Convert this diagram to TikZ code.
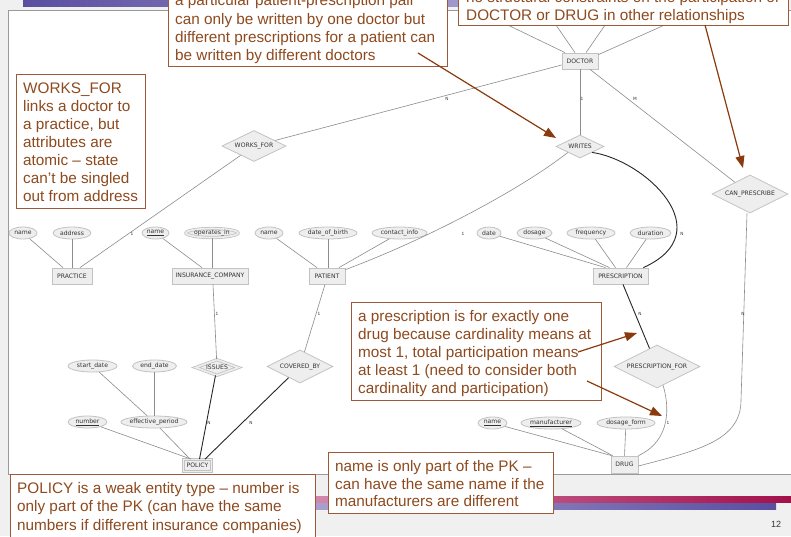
\documentclass[tikz,border=0pt]{standalone}
\usepackage{fontspec}
\setmainfont{Liberation Sans}
\newfontfamily\erfam{DejaVu Sans}
\usetikzlibrary{shapes.geometric,arrows.meta,calc}
\definecolor{slidebg}{HTML}{F0F0F0}
\definecolor{panelborder}{HTML}{9A9A9A}
\definecolor{erfill}{HTML}{EEEEEE}
\definecolor{erdraw}{HTML}{C2C2C2}
\definecolor{erline}{HTML}{8C8C8C}
\definecolor{ertext}{HTML}{333333}
\definecolor{erdark}{HTML}{262626}
\definecolor{notetext}{HTML}{8E4A1E}
\definecolor{noteborder}{HTML}{9C5A36}
\definecolor{notearrow}{HTML}{8A3A0C}
\definecolor{bardark}{HTML}{5A4EA0}
\definecolor{barlight}{HTML}{B4ACD6}
\definecolor{reddark}{HTML}{A3104A}
\definecolor{redlight}{HTML}{D898B8}
\newcommand\attrlbl[1]{\makebox[0pt]{#1}}
\newcommand\notestrut{\rule{0pt}{11pt}}
\begin{document}
\begin{tikzpicture}[x=1pt,y=-1pt,
  erfont/.style={font=\erfam\fontsize{6.1}{7}\selectfont, text=ertext},
  ent/.style={rectangle, draw=erdraw, fill=erfill, line width=0.8pt, erfont, inner sep=0pt, minimum height=16pt},
  rel/.style={diamond, aspect=2, draw=erdraw, fill=erfill, line width=0.8pt, erfont, inner sep=0pt},
  attr/.style={ellipse, draw=erdraw, fill=erfill, line width=0.8pt, erfont, inner sep=0pt, minimum height=12pt},
  wk/.style={double=erfill, double distance=1.6pt},
  erln/.style={draw=erline, line width=0.6pt},
  erbk/.style={draw=erdark, line width=0.9pt},
  card/.style={font=\erfam\fontsize{4.3}{5}\selectfont, text=ertext, inner sep=0pt},
  notebox/.style={draw=noteborder, fill=white, line width=1pt, inner sep=0pt, anchor=north west},
  notetxt/.style={text=notetext, align=left, inner sep=0pt, anchor=north west},
  notearr/.style={draw=notearrow, line width=1.2pt, -{Triangle[length=12pt,width=9pt]}}
]
\useasboundingbox (0,0) rectangle (791,536);
\clip (0,0) rectangle (791,536);
% slide background
\fill[slidebg] (0,0) rectangle (791,536);
\shade[left color=bardark, right color=barlight!80!bardark] (23,0) rectangle (470,6);
\draw[panelborder, fill=white, line width=1pt] (8,10) rectangle (800,474);
\shade[left color=redlight, right color=reddark] (250,496.5) rectangle (791,502.5);
\shade[left color=barlight, right color=bardark] (250,503.5) rectangle (776,509.5);
\node[font=\fontsize{9}{10}\selectfont, text=ertext, inner sep=0pt] (pagenum) at (776,524) {12};

% ---------- entities ----------
\node[ent, minimum width=36pt] (doctor) at (580,61) {DOCTOR};
\node[ent, minimum width=40pt] (practice) at (72,276) {PRACTICE};
\node[ent, minimum width=76pt] (insco) at (210,276) {INSURANCE\_COMPANY};
\node[ent, minimum width=36pt] (patient) at (327,276) {PATIENT};
\node[ent, minimum width=55pt] (prescription) at (620.5,276) {PRESCRIPTION};
\node[ent, wk, minimum width=28pt, minimum height=12pt] (policy) at (197.5,465.5) {POLICY};
\node[ent, minimum width=27pt, minimum height=17pt] (drug) at (624.5,464.5) {DRUG};

% ---------- relationships ----------
\node[rel, minimum width=64pt, minimum height=31pt] (worksfor) at (254,146) {WORKS\_FOR};
\node[rel, minimum width=48pt, minimum height=23pt] (writes) at (580,146.5) {WRITES};
\node[rel, minimum width=76pt, minimum height=38pt] (canpres) at (750,194) {CAN\_PRESCRIBE};
\node[rel, wk, aspect=2.6, minimum width=43pt, minimum height=16pt] (issues) at (217,367.5) {ISSUES};
\node[rel, minimum width=66pt, minimum height=33pt] (covered) at (300,366.5) {COVERED\_BY};
\node[rel, minimum width=86pt, minimum height=43pt] (presfor) at (657,366.5) {PRESCRIPTION\_FOR};

% ---------- attributes ----------
\node[attr, minimum width=28pt] (prname) at (23,233) {\attrlbl{name}};
\node[attr, minimum width=38pt] (praddr) at (72,233) {\attrlbl{address}};
\node[attr, minimum width=27pt] (icname) at (155.5,233) {\attrlbl{\underline{name}}};
\node[attr, wk, minimum width=52pt, minimum height=9pt] (icops) at (212,233) {\attrlbl{operates\_in}};
\node[attr, minimum width=28pt] (ptname) at (269,233) {\attrlbl{name}};
\node[attr, minimum width=58pt] (ptdob) at (328,233) {\attrlbl{date\_of\_birth}};
\node[attr, minimum width=55pt] (ptci) at (399.5,233) {\attrlbl{contact\_info}};
\node[attr, minimum width=24pt] (psdate) at (489,233) {\attrlbl{date}};
\node[attr, minimum width=35pt] (psdos) at (534.5,233) {\attrlbl{dosage}};
\node[attr, minimum width=48pt] (psfreq) at (591,233) {\attrlbl{frequency}};
\node[attr, minimum width=41pt] (psdur) at (650.5,233) {\attrlbl{duration}};
\node[attr, minimum width=49pt] (pstart) at (92.5,366) {\attrlbl{start\_date}};
\node[attr, minimum width=44pt] (pend) at (154.5,366) {\attrlbl{end\_date}};
\node[attr, minimum width=39pt] (pnum) at (87.5,422) {\attrlbl{\underline{number}}};
\node[attr, minimum width=66pt] (peff) at (154,422) {\attrlbl{effective\_period}};
\node[attr, minimum width=29pt] (dname) at (492.5,423) {\attrlbl{\underline{name}}};
\node[attr, minimum width=60pt] (dmanu) at (551,423) {\attrlbl{\underline{manufacturer}}};
\node[attr, minimum width=58pt] (dform) at (626,423) {\attrlbl{dosage\_form}};

% hidden doctor attributes (behind the note)
\coordinate (da1) at (487,15);
\coordinate (da2) at (549,15);
\coordinate (da3) at (612,15);
\coordinate (da4) at (687,15);
\draw[erln] ([xshift=-15pt]doctor.north) -- (da1);
\draw[erln] ([xshift=-5pt]doctor.north) -- (da2);
\draw[erln] ([xshift=6pt]doctor.north) -- (da3);
\draw[erln] ([yshift=-2pt]doctor.north east) -- (da4);

% ---------- connectors ----------
\draw[erln] ([yshift=-4pt]doctor.west) -- (worksfor);
\draw[erln] (worksfor) -- ([xshift=8pt]practice.north);
\draw[erln] (doctor.south) -- (writes.north);
\draw[erln] ([xshift=10pt]doctor.south) -- (canpres);
\draw[erln] (prname) -- ([xshift=-9pt]practice.north);
\draw[erln] (praddr) -- (practice.north);
\draw[erln] (icname) -- ([xshift=-8pt]insco.north);
\draw[erln] (icops) -- ([xshift=2pt]insco.north);
\draw[erln] ([xshift=3pt]insco.south) -- (issues);
\draw[erln] (ptname) -- ([xshift=-10pt]patient.north);
\draw[erln] (ptdob) -- ([xshift=1pt]patient.north);
\draw[erln] (ptci) -- ([xshift=12pt]patient.north);
\draw[erln] ([xshift=-2pt]patient.south) -- (covered);
\draw[erln] ([yshift=-2pt]patient.north east) .. controls (425,240) and (520,190) .. (writes.south west);
\draw[erln] (psdate) -- ([xshift=-15pt]prescription.north);
\draw[erln] (psdos) -- ([xshift=-11pt]prescription.north);
\draw[erln] (psfreq) -- ([xshift=-5pt]prescription.north);
\draw[erln] (psdur) -- ([xshift=6pt]prescription.north);
\draw[erln] (pstart) -- ([xshift=-7pt]peff.north);
\draw[erln] (pend) -- ([xshift=0.5pt]peff.north);
\draw[erln] (pnum) -- ([xshift=8pt]policy.north west);
\draw[erln] (peff) -- ([xshift=7pt]policy.north west);
\draw[erln] (dname) -- ([xshift=1pt]drug.north west);
\draw[erln] (dmanu) -- ([xshift=2pt]drug.north west);
\draw[erln] (dform) -- (drug.north);
\draw[erln] ($(presfor.south)!0.14!(presfor.east)$) .. controls (669,405) and (672,440) .. (drug.north east);
\draw[erln] ([xshift=-3pt]canpres.south) -- (741,400) .. controls (741,440) and (700,450) .. ([yshift=-1.5pt]drug.east);
\draw[erbk] (writes.south east) .. controls (645,160) and (722,232) .. ([xshift=-5pt]prescription.north east);
\draw[erbk] ([xshift=2.5pt]prescription.south) -- (presfor);
\draw[erbk] (issues) -- ([xshift=2pt]policy.north);
\draw[erbk] (covered) -- ([xshift=7.5pt]policy.north);

% cardinalities
\node[card] (c1) at (447,99) {N};
\node[card] (c2) at (132,234) {1};
\node[card] (c3) at (582,99) {1};
\node[card] (c4) at (635,99) {M};
\node[card] (c5) at (463,234) {1};
\node[card] (c6) at (682,234) {N};
\node[card] (c7) at (217,314) {1};
\node[card] (c8) at (319,314) {1};
\node[card] (c9) at (209,423) {N};
\node[card] (c10) at (251,423) {N};
\node[card] (c11) at (640,314) {N};
\node[card] (c12) at (743,314) {N};
\node[card] (c13) at (668,423) {1};

% ---------- notes ----------
\node[notebox, minimum width=279pt, minimum height=86pt] (nb1) at (168,-20) {};
\node[notetxt, font=\fontsize{15.3}{18.3}\selectfont] (nt1) at (175,-5.5) {\notestrut a particular patient-prescription pair\\can only be written by one doctor but\\different prescriptions for a patient can\\be written by different doctors};

\node[notebox, minimum width=330pt, minimum height=45pt] (nb2) at (458,-20) {};
\node[notetxt, font=\fontsize{15.3}{18.3}\selectfont] (nt2) at (466,-8.8) {\notestrut no structural constraints on the participation of\\DOCTOR or DRUG in other relationships};

\node[notebox, minimum width=129pt, minimum height=134pt] (nb3) at (16,74) {};
\node[notetxt, font=\fontsize{15.3}{18.07}\selectfont] (nt3) at (23,82.3) {\notestrut WORKS\_FOR\\links a doctor to\\a practice, but\\attributes are\\atomic – state\\can’t be singled\\out from address};

\node[notebox, minimum width=250pt, minimum height=98pt] (nb4) at (351,302) {};
\node[notetxt, font=\fontsize{15.3}{17.9}\selectfont] (nt4) at (358,310.7) {\notestrut a prescription is for exactly one\\drug because cardinality means at\\most 1, total participation means\\at least 1 (need to consider both\\cardinality and participation)};

\node[notebox, minimum width=305pt, minimum height=80pt] (nb5) at (10,474) {};
\node[notetxt, font=\fontsize{15.3}{18.4}\selectfont] (nt5) at (17,482.3) {\notestrut POLICY is a weak entity type – number is\\only part of the PK (can have the same\\numbers if different insurance companies)};

\node[notebox, minimum width=225pt, minimum height=61pt] (nb6) at (328,452) {};
\node[notetxt, font=\fontsize{15.3}{17.5}\selectfont] (nt6) at (335,460.7) {\notestrut name is only part of the PK –\\can have the same name if the\\manufacturers are different};

% ---------- note arrows ----------
\coordinate (a1s) at (418,53);
\coordinate (a1e) at (556,138);
\coordinate (a2s) at (705,25);
\coordinate (a2e) at (743,168);
\coordinate (a3s) at (578,352);
\coordinate (a3e) at (637,333);
\coordinate (a4s) at (587,381);
\coordinate (a4e) at (662,416);
\draw[notearr] (a1s) -- (a1e);
\draw[notearr] (a2s) -- (a2e);
\draw[notearr] (a3s) -- (a3e);
\draw[notearr] (a4s) -- (a4e);
\end{tikzpicture}
\end{document}
